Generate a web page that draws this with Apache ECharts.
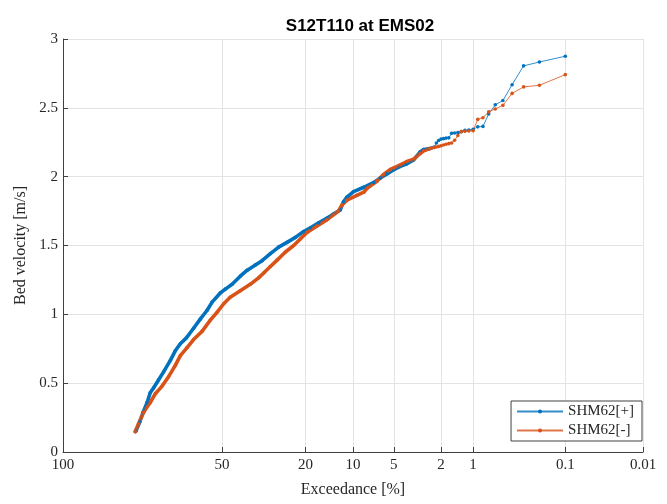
<!DOCTYPE html>
<html>
<head>
<meta charset="utf-8">
<title>S12T110 at EMS02</title>
<script src="https://cdn.jsdelivr.net/npm/echarts@6/dist/echarts.min.js"></script>
<style>
  html, body { margin: 0; padding: 0; background: #ffffff; }
  #chart { width: 667px; height: 504px; }
</style>
</head>
<body>
<div id="chart"></div>
<script>
// Exceedance curves of bed velocity (exceedance in %, velocity in m/s)
const exceedPlus = [
  86.5, 85.1, 83.9, 82.4, 81.2, 79.9, 77.9, 75.8, 73.0, 70.8, 68.6, 65.9, 62.7, 59.7, 56.7,
  54.4, 50.8, 48.6, 45.7, 42.3, 39.6, 36.3, 33.8, 30.8, 28.0, 25.3, 22.8, 20.5, 18.7, 16.7,
  14.8, 13.5, 12.2, 11.6, 11.0, 9.9, 8.4, 7.1, 6.35, 5.65, 5.0, 4.44, 3.92, 3.45, 3.03, 2.84,
  2.5, 2.4, 2.3, 2.2, 2.1, 2.0, 1.9, 1.8, 1.7, 1.6, 1.5, 1.4, 1.3, 1.2, 1.1, 1.0,
  0.9, 0.8, 0.7, 0.6, 0.5, 0.4, 0.3, 0.2, 0.1
];
const velPlus = [
  0.150, 0.218, 0.289, 0.359, 0.430, 0.465, 0.523, 0.582, 0.664, 0.735, 0.786, 0.829, 0.899, 0.965, 1.028,
  1.089, 1.155, 1.183, 1.218, 1.277, 1.319, 1.359, 1.390, 1.441, 1.488, 1.523, 1.559, 1.601, 1.629, 1.664,
  1.700, 1.728, 1.758, 1.817, 1.852, 1.892, 1.923, 1.958, 1.990, 2.020, 2.050, 2.075, 2.094, 2.122, 2.181, 2.197,
  2.205, 2.210, 2.216, 2.245, 2.263, 2.273, 2.276, 2.280, 2.282, 2.315, 2.317, 2.320, 2.327, 2.336, 2.339, 2.344,
  2.362, 2.365, 2.456, 2.522, 2.553, 2.668, 2.805, 2.833, 2.875
];

const exceedMinus = [
  86.7, 85.5, 83.7, 81.2, 79.2, 76.5, 73.7, 70.8, 68.6, 65.6, 62.7, 58.9, 55.2, 52.0, 49.3,
  46.5, 42.3, 38.3, 35.1, 33.2, 30.8, 28.5, 25.8, 23.3, 21.4, 19.6, 17.1, 14.8, 13.5, 12.5,
  11.9, 11.0, 9.4, 8.4, 7.96, 6.7, 6.0, 5.32, 5.0, 4.44, 3.92, 3.45, 3.03, 2.84,
  2.5, 2.4, 2.3, 2.2, 2.1, 2.0, 1.9, 1.8, 1.7, 1.6, 1.5, 1.4, 1.3, 1.2, 1.1, 1.0,
  0.9, 0.8, 0.7, 0.6, 0.5, 0.4, 0.3, 0.2, 0.1
];
const velMinus = [
  0.148, 0.207, 0.289, 0.359, 0.423, 0.477, 0.547, 0.629, 0.700, 0.758, 0.817, 0.876, 0.958, 1.019, 1.077,
  1.124, 1.171, 1.218, 1.265, 1.300, 1.347, 1.394, 1.453, 1.500, 1.547, 1.594, 1.641, 1.688, 1.723, 1.751,
  1.793, 1.829, 1.864, 1.887, 1.915, 1.969, 2.016, 2.052, 2.063, 2.085, 2.110, 2.127, 2.169, 2.188,
  2.205, 2.208, 2.212, 2.216, 2.220, 2.224, 2.230, 2.235, 2.240, 2.245, 2.264, 2.299, 2.327, 2.329, 2.332, 2.334,
  2.416, 2.428, 2.471, 2.492, 2.518, 2.605, 2.652, 2.664, 2.741
];

// Probability-axis ticks (exceedance %)
const xTickPercents = [100, 50, 20, 10, 5, 2, 1, 0.1, 0.01];
const xTickLabels = ['100', '50', '20', '10', '5', '2', '1', '0.1', '0.01'];

const seriesNames = ['SHM62[+]', 'SHM62[-]'];
const seriesColors = ['#0072BD', '#D95319'];

// Rayleigh probability scale: position = sqrt(-ln(P))
const toAxis = p => Math.sqrt(-Math.log(p / 100));
const xTickValues = xTickPercents.map(toAxis);

// Samples above this exceedance are packed so tightly that their markers merge into a band
const DENSE_LIMIT = 2.5;

function pairs(ex, vel, filter) {
  const out = [];
  for (let i = 0; i < ex.length; i++) {
    if (!filter || filter(ex[i])) out.push([toAxis(ex[i]), vel[i]]);
  }
  return out;
}

const serif = 'Liberation Serif';
const textColor = '#262626';

function bandSeries(ex, vel, color) {
  return {
    type: 'line',
    name: '_band',
    data: pairs(ex, vel, p => p >= DENSE_LIMIT),
    showSymbol: false,
    symbol: 'none',
    lineStyle: { color: color, width: 3.6, join: 'round', cap: 'round' },
    itemStyle: { color: color },
    silent: true,
    z: 2
  };
}

function pointSeries(name, ex, vel, color) {
  return {
    type: 'line',
    name: name,
    data: pairs(ex, vel),
    symbol: 'circle',
    symbolSize: 3.6,
    showSymbol: true,
    lineStyle: { color: color, width: 1, opacity: 0.8 },
    itemStyle: { color: color },
    z: 3
  };
}

const chart = echarts.init(document.getElementById('chart'), null, { renderer: 'canvas' });

chart.setOption({
  animation: false,
  backgroundColor: '#ffffff',
  title: {
    text: 'S12T110 at EMS02',
    left: 355,
    textAlign: 'center',
    top: 13,
    textStyle: { fontFamily: 'Liberation Sans', fontWeight: 'bold', fontSize: 17, color: '#000000' }
  },
  grid: { left: 63, right: 24, top: 39, bottom: 52, containLabel: false },
  legend: {
    data: seriesNames,
    orient: 'vertical',
    right: 25,
    bottom: 63,
    itemWidth: 46,
    itemHeight: 5,
    itemGap: 4,
    padding: [3, 8, 3, 5],
    backgroundColor: '#ffffff',
    borderColor: '#404040',
    borderWidth: 1,
    borderRadius: 0,
    textStyle: { fontFamily: serif, fontSize: 15, color: textColor }
  },
  xAxis: {
    type: 'value',
    min: 0,
    max: toAxis(0.01),
    name: 'Exceedance [%]',
    nameLocation: 'middle',
    nameGap: 30,
    nameTextStyle: { fontFamily: serif, fontSize: 16, color: textColor },
    axisLine: { show: true, onZero: false, lineStyle: { color: '#404040', width: 1 } },
    axisTick: { show: true, inside: true, length: 5, customValues: xTickValues, lineStyle: { color: '#404040' } },
    axisLabel: {
      customValues: xTickValues,
      margin: 6,
      fontFamily: serif,
      fontSize: 15,
      color: textColor,
      formatter: function (v) {
        let best = 0;
        for (let i = 1; i < xTickValues.length; i++) {
          if (Math.abs(xTickValues[i] - v) < Math.abs(xTickValues[best] - v)) best = i;
        }
        return xTickLabels[best];
      }
    },
    splitLine: { show: true, lineStyle: { color: '#e3e3e3', width: 1 } }
  },
  yAxis: {
    type: 'value',
    min: 0,
    max: 3,
    interval: 0.5,
    name: 'Bed velocity [m/s]',
    nameLocation: 'middle',
    nameGap: 34,
    nameTextStyle: { fontFamily: serif, fontSize: 16, color: textColor },
    axisLine: { show: true, lineStyle: { color: '#404040', width: 1 } },
    axisTick: { show: true, inside: true, length: 5, lineStyle: { color: '#404040' } },
    axisLabel: { margin: 5, fontFamily: serif, fontSize: 15, color: textColor },
    splitLine: { show: true, lineStyle: { color: '#e3e3e3', width: 1 } }
  },
  series: [
    bandSeries(exceedPlus, velPlus, seriesColors[0]),
    pointSeries(seriesNames[0], exceedPlus, velPlus, seriesColors[0]),
    bandSeries(exceedMinus, velMinus, seriesColors[1]),
    pointSeries(seriesNames[1], exceedMinus, velMinus, seriesColors[1])
  ]
});
</script>
</body>
</html>
